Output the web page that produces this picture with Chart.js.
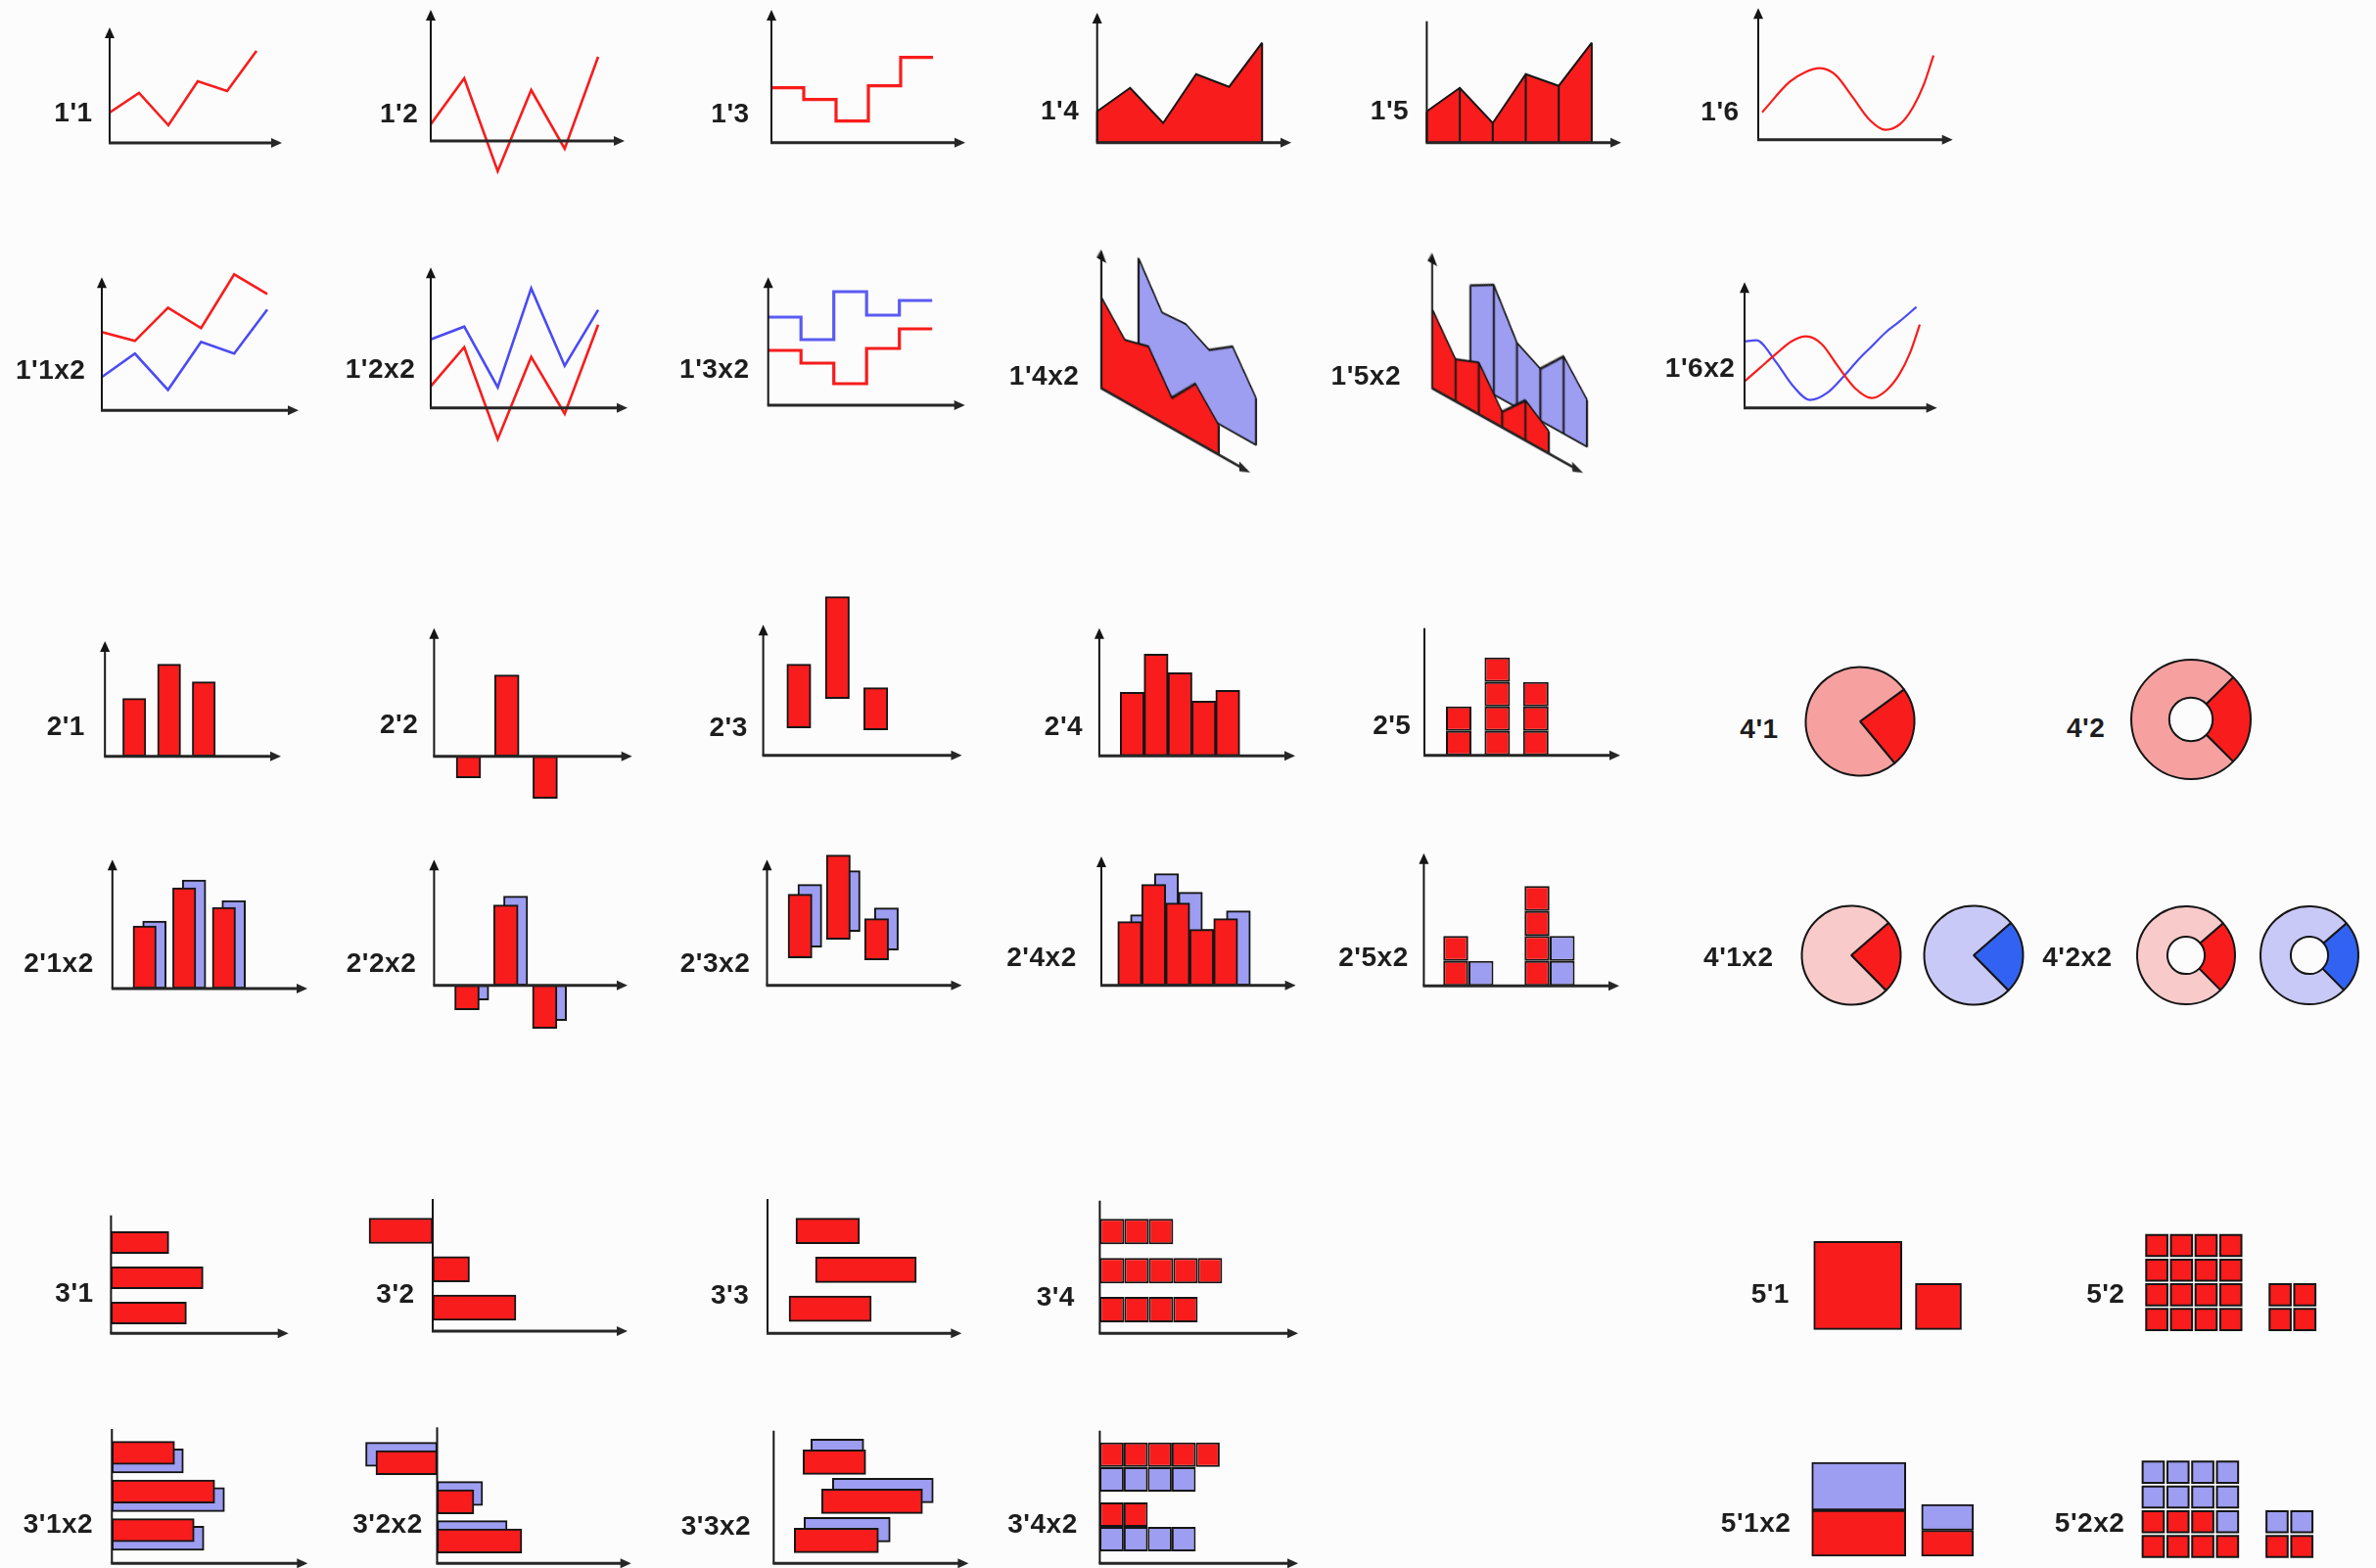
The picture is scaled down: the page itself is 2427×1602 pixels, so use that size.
<!DOCTYPE html>
<html><head><meta charset="utf-8"><title>Chart type icons</title>
<script src="https://cdn.jsdelivr.net/npm/chart.js@4.4.1/dist/chart.umd.min.js"></script>
<style>
html,body{margin:0;padding:0;background:#fcfcfc;}
#stage{position:relative;width:2427px;height:1602px;overflow:hidden;background:#fcfcfc;}
#stage canvas{position:absolute;}
.lbl{position:absolute;font-family:"Liberation Sans",Arial,sans-serif;font-weight:bold;font-size:28px;line-height:1;letter-spacing:0.5px;color:#1d1d1d;transform:translate(-50%,-50%);white-space:nowrap;}
</style></head><body><div id="stage"></div>
<script>
// ================= DATA =================
// Row 1: single-series lines / areas
const c1_1 = [3.1, 5.1, 1.8, 6.3, 5.3, 9.4];
const c1_2 = [1.7, 6.4, -3.1, 5.2, -0.8, 8.6];
const c1_3 = [5.6, 4.4, 2.2, 5.8, 8.7];
const c1_4 = [3.2, 5.6, 2.0, 7.0, 5.7, 10.2];
const c1_5 = [3.2, 5.6, 2.0, 7.0, 5.8, 10.2];
const c1_6x = [0.4, 3.2, 4.8, 6.3, 7.9, 9.6, 11.4, 13.0, 14.5, 15.8, 16.9, 17.9];
const c1_6 = [2.8, 5.9, 6.9, 7.3, 6.6, 4.4, 2.0, 1.0, 1.6, 3.3, 5.6, 8.6];
// Row 2: two-series lines / areas
const c1_1x2_red = [8.0, 7.1, 10.5, 8.4, 13.9, 11.9];
const c1_1x2_blue = [3.4, 5.8, 2.1, 7.0, 5.8, 10.3];
const c1_2x2_red = [2.2, 6.2, -3.2, 5.2, -0.6, 8.5];
const c1_2x2_blue = [7.0, 8.3, 2.1, 12.2, 4.3, 10.0];
const c1_3x2_red = [5.6, 4.3, 2.2, 5.8, 7.8];
const c1_3x2_blue = [9.0, 6.7, 11.6, 9.2, 10.7];
const c1_4x2_red = [9.3, 6.3, 7.0, 3.1, 5.9, 3.0];
const c1_4x2_blue = [12.3, 8.1, 8.3, 7.0, 8.7, 4.8];
const c1_5x2_red = [8.1, 4.3, 5.3, 1.6, 4.1, 2.3];
const c1_5x2_blue = [9.8, 11.2, 6.6, 5.3, 7.9, 4.8];
const c1_6x2_redX = [0, 1.6, 3.2, 4.8, 6.3, 7.9, 9.5, 11.3, 13.0, 14.5, 15.8, 16.9, 17.9];
const c1_6x2_red = [2.7, 4.1, 5.5, 6.8, 7.3, 6.5, 4.3, 2.0, 1.0, 1.8, 3.4, 5.6, 8.5];
const c1_6x2_blueX = [0, 1.2, 3.2, 4.9, 6.7, 8.4, 10.2, 11.6, 13.0, 14.4, 15.8, 17.55];
const c1_6x2_blue = [6.8, 6.9, 4.7, 2.3, 0.8, 1.5, 3.3, 4.9, 6.3, 7.7, 8.8, 10.3];
// Row 3: single-series columns, pies
const c2_1 = [5.9, 9.4, 7.6];
const c2_2 = [-2.2, 8.3, -4.3];
const c2_3 = [[2.8, 9.3], [5.8, 16.2], [2.6, 6.9]];
const c2_4 = [6.5, 10.4, 8.5, 5.6, 6.7];
const c2_5 = [2, 4, 3];
const c4_1 = [24, 76];
const c4_2 = [25, 75];
// Row 4: two-series columns, pies
const c2_1x2_red = [6.4, 10.3, 8.3];
const c2_1x2_blue = [6.9, 11.1, 9.0];
const c2_2x2_red = [-2.5, 8.2, -4.4];
const c2_2x2_blue = [-1.5, 9.1, -3.6];
const c2_3x2_red = [[2.8, 9.3], [4.7, 13.3], [2.6, 6.8]];
const c2_3x2_blue = [[3.9, 10.3], [5.5, 11.7], [3.6, 7.9]];
const c2_4x2_red = [6.5, 10.3, 8.4, 5.7, 6.8];
const c2_4x2_blue = [7.2, 11.4, 9.5, 5.7, 7.6];
const c2_5x2_red = [2, 4];
const c2_5x2_blue = [1, 2];
const c4_1x2 = [24, 76];
const c4_2x2 = [24, 76];
// Row 5: single-series bars, squares
const c3_1 = [5.9, 9.4, 7.7];
const c3_2 = [-6.5, 3.75, 8.5];
const c3_3 = [[2.9, 9.4], [4.9, 15.2], [2.2, 10.6]];
const c3_4 = [3, 5, 4];
const c5_cats = ['A', 'B'];
const c5_1 = [9.0, 4.7];
const c5_2 = [16, 4];
// Row 6: two-series bars, squares
const c3_1x2_red = [6.4, 10.5, 8.4];
const c3_1x2_blue = [7.3, 11.5, 9.4];
const c3_2x2_red = [-6.25, 3.75, 8.65];
const c3_2x2_blue = [-7.3, 4.65, 7.15];
const c3_3x2_red = [[3.0, 9.4], [4.9, 15.2], [2.1, 10.7]];
const c3_3x2_blue = [[3.8, 9.2], [6.0, 16.3], [3.1, 11.9]];
const c3_4x2_red = [5, 2];
const c3_4x2_blue = [4, 4];
const c5_1x2_red = [4.7, 2.65];
const c5_1x2_blue = [4.9, 2.65];
const c5_2x2_red = [7, 2];
const c5_2x2_blue = [9, 2];

// ================= STYLE =================
const INK = '#151515', RED = '#f81c1c', BLUE = '#4b4bf4', LAV = '#9d9df1';
const PINK = '#f6a0a0', PALE_RED = '#f9caca', PALE_BLUE = '#c9c9f7', DARK_BLUE = '#3262f1';
Chart.defaults.animation = false;
Chart.defaults.responsive = false;
Chart.defaults.devicePixelRatio = 1;
Chart.defaults.events = [];
Chart.defaults.plugins.legend.display = false;
Chart.defaults.plugins.tooltip.enabled = false;

const stage = document.getElementById('stage');
const PAD = 80;

const axesPlugin = {
  id: 'axes',
  afterDatasetsDraw(chart, args, o) {
    if (!o || o.hide) return;
    const ctx = chart.ctx, ca = chart.chartArea;
    const X = ca.left, Y = ca.bottom, AL = 11, AW = 5;
    ctx.save();
    ctx.strokeStyle = INK; ctx.fillStyle = INK;
    ctx.lineWidth = 2;
    ctx.beginPath(); ctx.moveTo(X, Y); ctx.lineTo(X, o.yArrow === false ? ca.top : ca.top + AL - 1); ctx.stroke();
    if (o.yArrow !== false) {
      ctx.beginPath(); ctx.moveTo(X, ca.top); ctx.lineTo(X - AW, ca.top + AL); ctx.lineTo(X + AW, ca.top + AL); ctx.closePath(); ctx.fill();
    }
    ctx.strokeStyle = '#262626'; ctx.fillStyle = '#262626';
    ctx.lineWidth = 3;
    ctx.beginPath(); ctx.moveTo(X - 1, Y); ctx.lineTo(ca.right - AL + 1, Y); ctx.stroke();
    ctx.beginPath(); ctx.moveTo(ca.right, Y); ctx.lineTo(ca.right - AL, Y - AW); ctx.lineTo(ca.right - AL, Y + AW); ctx.closePath(); ctx.fill();
    ctx.restore();
  }
};
const dropsPlugin = {
  id: 'drops',
  afterDatasetDraw(chart, args, o) {
    if (!o || !o.mode) return;
    const meta = args.meta; if (meta.type !== 'line') return;
    const pts = meta.data, n = pts.length; if (!n) return;
    const base = chart.scales.y.getPixelForValue(0);
    const ctx = chart.ctx; ctx.save();
    ctx.strokeStyle = INK; ctx.lineWidth = 2; ctx.beginPath();
    pts.forEach((p, i) => { if (o.mode === 'all' || i === 0 || i === n - 1) { ctx.moveTo(p.x, p.y); ctx.lineTo(p.x, base); } });
    ctx.moveTo(pts[0].x, base); ctx.lineTo(pts[n - 1].x, base);
    ctx.stroke(); ctx.restore();
  }
};
Chart.register(axesPlugin, dropsPlugin);

// helpers
const rngX = (l, r, o, u) => [(l - o) / u, (r - o) / u];
const rngY = (t, b, o, u) => [(o - b) / u, (o - t) / u];
const rngYrev = (t, b, o, u) => [(t - o) / u, (b - o) / u];
const P = (vals, xs) => vals.map((v, i) => ({x: xs ? xs[i] : i, y: v}));
const steps = vals => P(vals).concat([{x: vals.length, y: vals[vals.length - 1]}]);
const lineDS = (data, color, extra) => Object.assign({type: 'line', data, borderColor: color, borderWidth: 2.6, pointRadius: 0, fill: false, tension: 0}, extra || {});
const areaDS = (vals, color) => ({type: 'line', data: P(vals), borderColor: INK, borderWidth: 2, backgroundColor: color, fill: 'origin', pointRadius: 0, tension: 0});
const barBase = (color, th) => ({type: 'bar', backgroundColor: color, borderColor: INK, borderWidth: 2, borderSkipped: false, barThickness: th, grouped: false});
const vbar = (vals, color, th, shift) => Object.assign(barBase(color, th), {data: vals.map((v, i) => ({x: i + (shift || 0), y: v}))});
const hbar = (vals, color, th, shift) => Object.assign(barBase(color, th), {data: vals.map((v, i) => ({x: v, y: i + (shift || 0)}))});
function unitStack(counts, color, th, shift, horizontal, stackId) {
  const out = [], n = Math.max(...counts);
  for (let k = 0; k < n; k++) {
    const data = [];
    counts.forEach((c, i) => { if (c > k) data.push(horizontal ? {x: 1, y: i + shift} : {x: i + shift, y: 1}); });
    out.push(Object.assign(barBase(color, th), {data, stack: stackId, inflateAmount: 0}));
  }
  return out;
}

function cart(s) {
  const [l, t, r, b] = s.area;
  const sh = s.shift || [0, 0];
  const cl = Math.floor(l - PAD), ct = Math.floor(t - PAD);
  const cw = Math.ceil(r - cl + PAD), ch = Math.ceil(b - ct + PAD);
  const cv = document.createElement('canvas');
  cv.width = cw; cv.height = ch;
  cv.style.left = (cl + sh[0]) + 'px'; cv.style.top = (ct + sh[1]) + 'px';
  if (s.skew) { cv.style.transformOrigin = (l - cl) + 'px ' + (b - ct) + 'px'; cv.style.transform = 'skewY(' + s.skew + 'deg)'; }
  stage.appendChild(cv);
  s.datasets.forEach(d => { d.clip = false; });
  const xScale = s.labels ? {type: 'category', display: false, offset: true} : {type: 'linear', display: false, min: s.x[0], max: s.x[1], offset: false};
  xScale.stacked = !!s.stackX;
  const yScale = {type: 'linear', display: false, min: s.y[0], max: s.y[1], offset: false, reverse: !!s.revY, stacked: !!s.stackY};
  return new Chart(cv, {
    type: s.type || 'line',
    data: {labels: s.labels, datasets: s.datasets},
    options: {
      indexAxis: s.indexAxis || 'x',
      layout: {padding: {left: l - cl, top: t - ct, right: cw - (r - cl), bottom: ch - (b - ct)}},
      scales: {x: xScale, y: yScale},
      plugins: {legend: {display: false}, tooltip: {enabled: false}, axes: s.axes === false ? false : (s.axes || {}), drops: s.drops || {}}
    }
  });
}
function pie(cx, cy, R, inner, vals, colors, rot) {
  const S = 2 * Math.ceil(R + 6);
  const cv = document.createElement('canvas'); cv.width = cv.height = S;
  cv.style.left = (Math.round(cx) - S / 2) + 'px'; cv.style.top = (Math.round(cy) - S / 2) + 'px';
  stage.appendChild(cv);
  new Chart(cv, {type: 'doughnut', data: {datasets: [{data: vals, backgroundColor: colors, borderColor: INK, borderWidth: 2}]},
    options: {radius: R, cutout: inner, rotation: rot, plugins: {legend: {display: false}, tooltip: {enabled: false}, axes: false, drops: false}}});
}
function squareDatasets(series, cats, pxPerUnit) {
  const ds = [];
  cats.forEach((c, j) => {
    const total = series.reduce((s, se) => s + se.vals[j], 0);
    series.forEach(se => ds.push(Object.assign(barBase(se.color, total * pxPerUnit), {data: cats.map((_, k) => k === j ? se.vals[j] : null), stack: 'c' + j})));
  });
  return ds;
}
function waffleDataset(series, R) {
  const cells = [], colors = [];
  let off = 0;
  for (let b = 0; b < series[0].vals.length; b++) {
    const total = series.reduce((s, se) => s + se.vals[b], 0);
    const cols = Math.round(Math.sqrt(total));
    let i = 0;
    series.forEach(se => { for (let k = 0; k < se.vals[b]; k++, i++) { cells.push({x: off + i % cols, y: Math.floor(i / cols)}); colors.push(se.color); } });
    off += cols + 1;
  }
  return {type: 'scatter', data: cells, pointStyle: 'rect', pointRadius: R, pointBackgroundColor: colors, pointBorderColor: INK, pointBorderWidth: 2, showLine: false};
}

// ================= ROW 1 =================
cart({area: [112, 28, 288, 146], x: rngX(112, 288, 112, 30), y: rngY(28, 146, 146, 10), datasets: [lineDS(P(c1_1), RED)]});
cart({area: [440, 10, 638, 144], x: rngX(440, 638, 440, 34.2), y: rngY(10, 144, 144, 10), datasets: [lineDS(P(c1_2), RED)]});
cart({area: [788, 10, 986, 145.7], x: rngX(788, 986, 788, 33), y: rngY(10, 145.7, 145.7, 10), datasets: [lineDS(steps(c1_3), RED, {stepped: true, borderWidth: 3.2})]});
cart({area: [1120.7, 13, 1319, 145.7], x: rngX(1120.7, 1319, 1120.7, 33.7), y: rngY(13, 145.7, 145.7, 10), datasets: [areaDS(c1_4, RED)], drops: {mode: 'ends'}});
cart({area: [1457.4, 21.7, 1656, 145.7], x: rngX(1457.4, 1656, 1457.4, 33.7), y: rngY(21.7, 145.7, 145.7, 10), datasets: [areaDS(c1_5, RED)], drops: {mode: 'all'}, axes: {yArrow: false}});
cart({area: [1796, 8.3, 1994.7, 142.7], x: rngX(1796, 1994.7, 1796, 10), y: rngY(8.3, 142.7, 142.7, 10), datasets: [lineDS(P(c1_6, c1_6x), RED, {cubicInterpolationMode: 'monotone', borderWidth: 2.2})]});

// ================= ROW 2 =================
cart({area: [104, 283.3, 305, 419.3], x: rngX(104, 305, 104, 33.8), y: rngY(283.3, 419.3, 419.3, 10), datasets: [lineDS(P(c1_1x2_red), RED), lineDS(P(c1_1x2_blue), BLUE)]});
cart({area: [440, 273.3, 641, 416.7], x: rngX(440, 641, 440, 34.2), y: rngY(273.3, 416.7, 416.7, 10), datasets: [lineDS(P(c1_2x2_red), RED), lineDS(P(c1_2x2_blue), BLUE)]});
cart({area: [784.7, 283.3, 985.7, 414], x: rngX(784.7, 985.7, 784.7, 33.5), y: rngY(283.3, 414, 414, 10), datasets: [lineDS(steps(c1_3x2_red), RED, {stepped: true, borderWidth: 3.2}), lineDS(steps(c1_3x2_blue), '#5b5bf3', {stepped: true, borderWidth: 3.2})]});
// 1'4x2 : back series then front series, skewed
cart({area: [1125, 255, 1277, 396.7], shift: [38, -10], skew: 29.5, x: rngX(1125, 1277, 1125, 24), y: rngY(255, 396.7, 396.7, 10), datasets: [areaDS(c1_4x2_blue, LAV)], drops: {mode: 'ends'}, axes: false});
cart({area: [1125, 255, 1277, 396.7], skew: 29.5, x: rngX(1125, 1277, 1125, 24), y: rngY(255, 396.7, 396.7, 10), datasets: [areaDS(c1_4x2_red, RED)], drops: {mode: 'ends'}});
// 1'5x2
cart({area: [1463, 258.3, 1617, 396.7], shift: [38.6, -7], skew: 29.25, x: rngX(1463, 1617, 1463, 23.8), y: rngY(258.3, 396.7, 396.7, 10), datasets: [areaDS(c1_5x2_blue, LAV)], drops: {mode: 'all'}, axes: false});
cart({area: [1463, 258.3, 1617, 396.7], skew: 29.25, x: rngX(1463, 1617, 1463, 23.8), y: rngY(258.3, 396.7, 396.7, 10), datasets: [areaDS(c1_5x2_red, RED)], drops: {mode: 'all'}});
cart({area: [1782, 288.3, 1978.6, 416.7], x: rngX(1782, 1978.6, 1782, 10), y: rngY(288.3, 416.7, 416.7, 10), datasets: [lineDS(P(c1_6x2_red, c1_6x2_redX), RED, {cubicInterpolationMode: 'monotone', borderWidth: 2.2}), lineDS(P(c1_6x2_blue, c1_6x2_blueX), BLUE, {cubicInterpolationMode: 'monotone', borderWidth: 2.2})]});

// ================= ROW 3 =================
cart({type: 'bar', area: [107.2, 655, 287, 772.7], x: rngX(107.2, 287, 137.2, 35.5), y: rngY(655, 772.7, 772.7, 10), datasets: [vbar(c2_1, RED, 23.5)]});
cart({type: 'bar', area: [443.4, 641.7, 645.7, 772.7], x: rngX(443.4, 645.7, 478.5, 39.2), y: rngY(641.7, 772.7, 772.7, 10), datasets: [vbar(c2_2, RED, 25)]});
cart({type: 'bar', area: [779.6, 638.3, 982.5, 771.7], x: rngX(779.6, 982.5, 816, 39.3), y: rngY(638.3, 771.7, 771.7, 10), datasets: [vbar(c2_3, RED, 24.5)]});
cart({type: 'bar', area: [1122.9, 641.7, 1323, 772.3], x: rngX(1122.9, 1323, 1156.5, 24.4), y: rngY(641.7, 772.3, 772.3, 10), datasets: [vbar(c2_4, RED, 24.5)]});
cart({type: 'bar', area: [1455, 641.7, 1655, 771.7], x: rngX(1455, 1655, 1490, 39.4), y: rngY(641.7, 771.7, 771.7, 25), stackY: true, datasets: unitStack(c2_5, RED, 26, 0, false, 's'), axes: {yArrow: false}});
pie(1900, 737, 55.5, 0, c4_1, [RED, PINK], 54);
pie(2237.5, 735, 61, 24, c4_2, [RED, PINK], 45);

// ================= ROW 4 =================
cart({type: 'bar', area: [114.8, 878.3, 314, 1010], x: rngX(114.8, 314, 147.7, 40.5), y: rngY(878.3, 1010, 1010, 10), datasets: [vbar(c2_1x2_red, RED, 23.6), vbar(c2_1x2_blue, LAV, 24, 0.247)]});
cart({type: 'bar', area: [443.4, 878.3, 641, 1006.7], x: rngX(443.4, 641, 477, 39.7), y: rngY(878.3, 1006.7, 1006.7, 10), datasets: [vbar(c2_2x2_red, RED, 25), vbar(c2_2x2_blue, LAV, 24.5, 0.252)]});
cart({type: 'bar', area: [783.5, 878.3, 982.5, 1006.7], x: rngX(783.5, 982.5, 817.2, 39.1), y: rngY(878.3, 1006.7, 1006.7, 10), datasets: [vbar(c2_3x2_red, RED, 24.4), vbar(c2_3x2_blue, LAV, 24.4, 0.256)]});
cart({type: 'bar', area: [1125, 875, 1323.6, 1006.7], x: rngX(1125, 1323.6, 1154, 24.5), y: rngY(875, 1006.7, 1006.7, 10), datasets: [vbar(c2_4x2_red, RED, 24.5), vbar(c2_4x2_blue, LAV, 24.5, 0.53)]});
cart({type: 'bar', area: [1454.4, 871.7, 1654, 1007.3], x: rngX(1454.4, 1654, 1487, 83), y: rngY(871.7, 1007.3, 1007.3, 25.5), stackY: true, datasets: unitStack(c2_5x2_red, RED, 25.5, 0, false, 'r').concat(unitStack(c2_5x2_blue, LAV, 25.5, 0.31, false, 'b'))});
pie(1891, 976, 50.5, 0, c4_1x2, [RED, PALE_RED], 49);
pie(2015.5, 976, 50.5, 0, c4_1x2, [DARK_BLUE, PALE_BLUE], 49);
pie(2233, 976, 50, 21, c4_2x2, [RED, PALE_RED], 49);
pie(2358.5, 976, 50, 21, c4_2x2, [DARK_BLUE, PALE_BLUE], 49);

// ================= ROW 5 =================
cart({type: 'bar', indexAxis: 'y', revY: true, area: [113.4, 1241.7, 294.7, 1362.3], x: rngX(113.4, 294.7, 113.4, 10), y: rngYrev(1241.7, 1362.3, 1269.5, 36), datasets: [hbar(c3_1, RED, 22.5)], axes: {yArrow: false}});
cart({type: 'bar', indexAxis: 'y', revY: true, area: [442, 1225, 641, 1360], x: rngX(442, 641, 442, 10), y: rngYrev(1225, 1360, 1257.5, 39.25), datasets: [hbar(c3_2, RED, 26)], axes: {yArrow: false}});
cart({type: 'bar', indexAxis: 'y', revY: true, area: [784, 1225, 982.3, 1362.3], x: rngX(784, 982.3, 784, 10), y: rngYrev(1225, 1362.3, 1257.7, 39.75), datasets: [hbar(c3_3, RED, 26)], axes: {yArrow: false}});
cart({type: 'bar', indexAxis: 'y', revY: true, stackX: true, area: [1123.4, 1226.7, 1326, 1362.3], x: rngX(1123.4, 1326, 1123.4, 25), y: rngYrev(1226.7, 1362.3, 1258.3, 39.85), datasets: unitStack(c3_4, RED, 26, 0, true, 's'), axes: {yArrow: false}});
cart({type: 'bar', labels: c5_cats, stackY: true, area: [1856.5, 1250, 2021.2, 1358.3], y: rngY(1250, 1358.3, 1358.3, 10), datasets: squareDatasets([{vals: c5_1, color: RED}], c5_cats, 10), axes: false});
cart({type: 'scatter', area: [2190.5, 1259.9, 2366.9, 1360.7], x: [-0.5, 6.5], y: [-0.5, 3.5], datasets: [waffleDataset([{vals: c5_2, color: RED}], 15.3)], axes: false});

// ================= ROW 6 =================
cart({type: 'bar', indexAxis: 'y', revY: true, area: [114.3, 1460, 314.3, 1597.3], x: rngX(114.3, 314.3, 114.3, 10), y: rngYrev(1460, 1597.3, 1484.3, 39.5), datasets: [hbar(c3_1x2_red, RED, 23.5), hbar(c3_1x2_blue, LAV, 24.5, 0.21)], axes: {yArrow: false}});
cart({type: 'bar', indexAxis: 'y', revY: true, area: [446.5, 1458.3, 644.7, 1597.3], x: rngX(446.5, 644.7, 446.5, 10), y: rngYrev(1458.3, 1597.3, 1494.3, 40), datasets: [hbar(c3_2x2_red, RED, 24.5), hbar(c3_2x2_blue, LAV, 24.5, -0.21)], axes: {yArrow: false}});
cart({type: 'bar', indexAxis: 'y', revY: true, area: [790.3, 1461.7, 989.4, 1597.3], x: rngX(790.3, 989.4, 790.3, 10), y: rngYrev(1461.7, 1597.3, 1493.8, 40), datasets: [hbar(c3_3x2_red, RED, 25), hbar(c3_3x2_blue, LAV, 25, -0.275)], axes: {yArrow: false}});
cart({type: 'bar', indexAxis: 'y', revY: true, stackX: true, area: [1123.4, 1461.7, 1326, 1597.3], x: rngX(1123.4, 1326, 1123.4, 24.5), y: rngYrev(1461.7, 1597.3, 1486.3, 61.2), datasets: unitStack(c3_4x2_red, RED, 25, 0, true, 'r').concat(unitStack(c3_4x2_blue, LAV, 25, 0.41, true, 'b')), axes: {yArrow: false}});
cart({type: 'bar', labels: c5_cats, stackY: true, area: [1853.4, 1480, 2034.6, 1590], y: rngY(1480, 1590, 1590, 10), datasets: squareDatasets([{vals: c5_1x2_red, color: RED}, {vals: c5_1x2_blue, color: LAV}], c5_cats, 10), axes: false});
cart({type: 'scatter', area: [2186.8, 1491.5, 2363.9, 1592.7], x: [-0.5, 6.5], y: [-0.5, 3.5], datasets: [waffleDataset([{vals: c5_2x2_red, color: RED}, {vals: c5_2x2_blue, color: LAV}], 15.3)], axes: false});

// ================= LABELS =================
const chartLabels = [
  ["1'1", 75, 115], ["1'2", 407.6, 115.7], ["1'3", 746, 116], ["1'4", 1082.7, 113.3], ["1'5", 1419.5, 113.3], ["1'6", 1757, 114],
  ["1'1x2", 51.7, 378.3], ["1'2x2", 388.5, 376.7], ["1'3x2", 729.8, 376.7], ["1'4x2", 1066.6, 384], ["1'5x2", 1395.3, 384], ["1'6x2", 1736.6, 376],
  ["2'1", 67.3, 741.7], ["2'2", 407.7, 740], ["2'3", 744.2, 743.3], ["2'4", 1086.5, 741.7], ["2'5", 1421.8, 740.8], ["4'1", 1797, 745], ["4'2", 2130.6, 744],
  ["2'1x2", 60, 984], ["2'2x2", 389.5, 984], ["2'3x2", 730.5, 984], ["2'4x2", 1064, 977.5], ["2'5x2", 1403, 978], ["4'1x2", 1775.8, 978.3], ["4'2x2", 2121.9, 978.3],
  ["3'1", 76, 1320.8], ["3'2", 404, 1321.7], ["3'3", 745.6, 1323.3], ["3'4", 1078.3, 1325], ["5'1", 1808.3, 1321.7], ["5'2", 2150.8, 1321.7],
  ["3'1x2", 59.4, 1556.7], ["3'2x2", 396, 1556.7], ["3'3x2", 731.4, 1559.3], ["3'4x2", 1065, 1556.7], ["5'1x2", 1793.6, 1555.8], ["5'2x2", 2134.6, 1555.8]
];
chartLabels.forEach(([txt, x, y]) => {
  const d = document.createElement('div'); d.className = 'lbl'; d.textContent = txt;
  d.style.left = x + 'px'; d.style.top = y + 'px'; stage.appendChild(d);
});
</script></body></html>
